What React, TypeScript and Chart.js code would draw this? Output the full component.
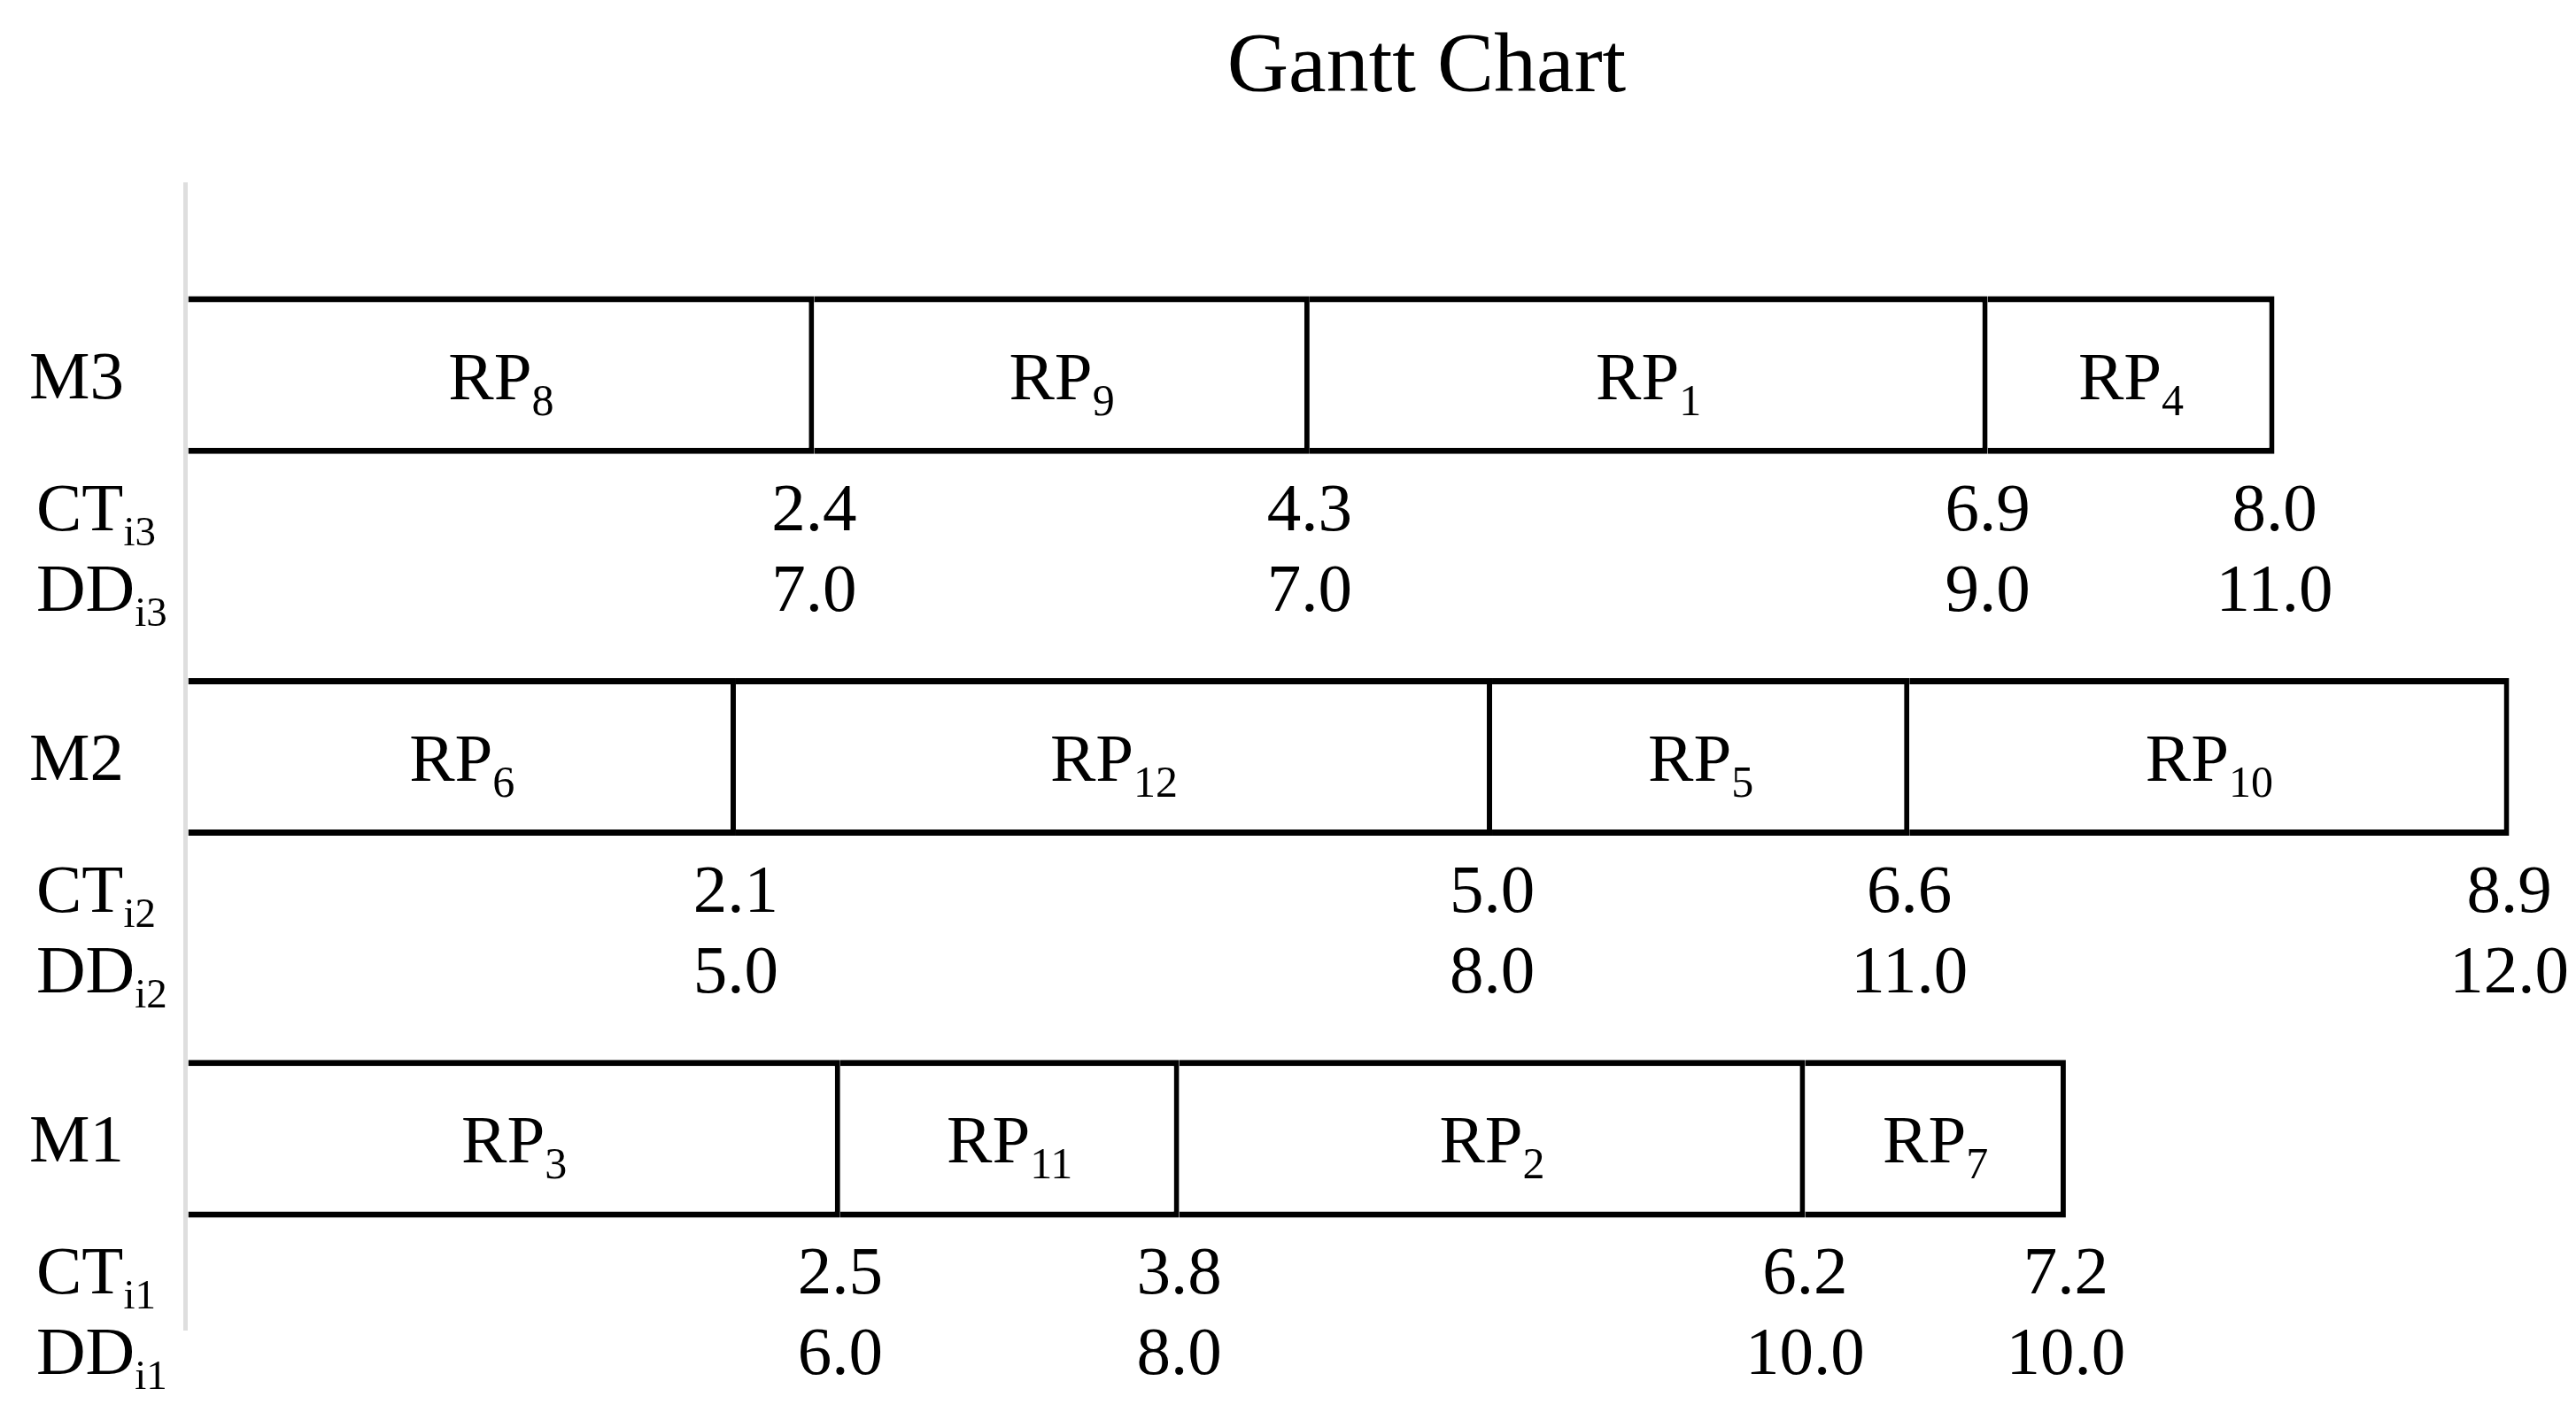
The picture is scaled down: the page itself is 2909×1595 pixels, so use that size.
import React, { useEffect, useRef } from "react";
import { Chart, registerables } from "chart.js";

Chart.register(...registerables);

const chartTitle = "Gantt Chart";
const machines = ["M3", "M2", "M1"];
const machineIdx = ["3", "2", "1"];

const jobsM3 = ["8", "9", "1", "4"];
const ctM3 = [2.4, 4.3, 6.9, 8.0];
const ddM3 = [7.0, 7.0, 9.0, 11.0];

const jobsM2 = ["6", "12", "5", "10"];
const ctM2 = [2.1, 5.0, 6.6, 8.9];
const ddM2 = [5.0, 8.0, 11.0, 12.0];

const jobsM1 = ["3", "11", "2", "7"];
const ctM1 = [2.5, 3.8, 6.2, 7.2];
const ddM1 = [6.0, 8.0, 10.0, 10.0];

const rows = [
  { jobs: jobsM3, ct: ctM3, dd: ddM3 },
  { jobs: jobsM2, ct: ctM2, dd: ddM2 },
  { jobs: jobsM1, ct: ctM1, dd: ddM1 },
];

const FONT = "'Liberation Serif', 'Times New Roman', serif";

function drawSub(
  ctx: CanvasRenderingContext2D,
  x: number,
  y: number,
  main: string,
  sub: string,
  mainSize: number,
  subSize: number,
  subDrop: number,
  center: boolean
) {
  ctx.font = `${mainSize}px ${FONT}`;
  const w1 = ctx.measureText(main).width;
  ctx.font = `${subSize}px ${FONT}`;
  const w2 = ctx.measureText(sub).width;
  const x0 = center ? x - (w1 + w2) / 2 : x;
  ctx.textAlign = "left";
  ctx.textBaseline = "alphabetic";
  ctx.font = `${mainSize}px ${FONT}`;
  ctx.fillText(main, x0, y);
  ctx.font = `${subSize}px ${FONT}`;
  ctx.fillText(sub, x0 + w1, y + subDrop);
}

const labelPlugin = {
  id: "ganttLabels",
  afterDatasetsDraw(chart: any) {
    const ctx: CanvasRenderingContext2D = chart.ctx;
    const ys = chart.scales.y;
    const area = chart.chartArea;
    ctx.save();
    ctx.fillStyle = "#000";
    ctx.textBaseline = "alphabetic";
    ctx.textAlign = "center";
    ctx.font = `96px ${FONT}`;
    ctx.fillText(chartTitle, (area.left + area.right) / 2 + 75, area.top - 105);

    rows.forEach((row, i) => {
      const yc = ys.getPixelForValue(i);
      ctx.textAlign = "left";
      ctx.font = `77px ${FONT}`;
      ctx.fillText(machines[i], area.left - 176, yc + 26);
      drawSub(ctx, area.left - 168, yc + 175, "CT", "i" + machineIdx[i], 77, 47, 17, false);
      drawSub(ctx, area.left - 168, yc + 266, "DD", "i" + machineIdx[i], 77, 47, 17, false);
      row.jobs.forEach((job, k) => {
        const el = chart.getDatasetMeta(k).data[i];
        const cx = (el.x + el.base) / 2;
        drawSub(ctx, cx, yc + 27, "RP", job, 77, 50, 18, true);
        ctx.textAlign = "center";
        ctx.font = `77px ${FONT}`;
        ctx.fillText(row.ct[k].toFixed(1), el.x, yc + 175);
        ctx.fillText(row.dd[k].toFixed(1), el.x, yc + 266);
      });
    });
    ctx.restore();
  },
};

export default function App() {
  const ref = useRef<HTMLCanvasElement | null>(null);
  useEffect(() => {
    if (!ref.current) return;
    const datasets = [0, 1, 2, 3].map((k) => ({
      label: "slot" + k,
      data: rows.map((r) => [k === 0 ? 0 : r.ct[k - 1], r.ct[k]]),
      backgroundColor: "#ffffff",
      borderColor: "#000000",
      borderWidth: { top: 7, bottom: 7, right: 6, left: 0 },
      borderSkipped: "start",
      barPercentage: 0.413,
      categoryPercentage: 1,
    }));
    const chart = new Chart(ref.current, {
      type: "bar",
      data: { labels: machines, datasets: datasets as any },
      options: {
        indexAxis: "y",
        animation: false,
        responsive: false,
        layout: { padding: { left: 209, right: 46, top: 208, bottom: 93 } },
        plugins: { legend: { display: false }, title: { display: false }, tooltip: { enabled: false } },
        scales: {
          x: { type: "linear", min: -0.012, max: 9.0, display: false, stacked: false },
          y: {
            type: "category",
            stacked: true,
            display: true,
            ticks: { display: false },
            grid: { display: false, drawTicks: false },
            border: { display: true, color: "#dedede", width: 5 },
          },
        },
      },
      plugins: [labelPlugin],
    });
    return () => chart.destroy();
  }, []);
  return (
    <div style={{ position: "fixed", left: 0, top: 0, width: 2909, height: 1595, background: "#fff" }}>
      <canvas ref={ref} width={2909} height={1595} />
    </div>
  );
}
